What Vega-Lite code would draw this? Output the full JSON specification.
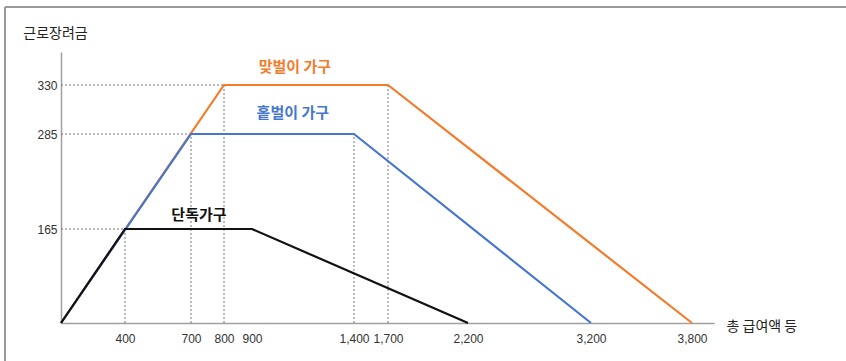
{
  "$schema": "https://vega.github.io/schema/vega-lite/v6.json",
  "width": 653,
  "height": 271,
  "autosize": {"type": "none"},
  "padding": {"left": 61, "top": 52, "right": 132, "bottom": 38},
  "background": "white",
  "config": {
    "view": {"stroke": null},
    "font": "Noto Sans CJK KR"
  },
  "datasets": {
    "lines": [
      {"series": "맞벌이 가구", "step": 1, "income": 0, "credit": 0},
      {"series": "맞벌이 가구", "step": 2, "income": 800, "credit": 330},
      {"series": "맞벌이 가구", "step": 3, "income": 1700, "credit": 330},
      {"series": "맞벌이 가구", "step": 4, "income": 3800, "credit": 0},
      {"series": "홑벌이 가구", "step": 1, "income": 0, "credit": 0},
      {"series": "홑벌이 가구", "step": 2, "income": 700, "credit": 285},
      {"series": "홑벌이 가구", "step": 3, "income": 1400, "credit": 285},
      {"series": "홑벌이 가구", "step": 4, "income": 3200, "credit": 0},
      {"series": "단독가구", "step": 1, "income": 0, "credit": 0},
      {"series": "단독가구", "step": 2, "income": 400, "credit": 165},
      {"series": "단독가구", "step": 3, "income": 900, "credit": 165},
      {"series": "단독가구", "step": 4, "income": 2200, "credit": 0}
    ],
    "guides": [
      {"income": 400, "income2": 400, "credit": 0, "credit2": 165},
      {"income": 700, "income2": 700, "credit": 0, "credit2": 285},
      {"income": 800, "income2": 800, "credit": 0, "credit2": 330},
      {"income": 1400, "income2": 1400, "credit": 0, "credit2": 285},
      {"income": 1700, "income2": 1700, "credit": 0, "credit2": 330},
      {"income": 0, "income2": 400, "credit": 165, "credit2": 165},
      {"income": 0, "income2": 700, "credit": 285, "credit2": 285},
      {"income": 0, "income2": 800, "credit": 330, "credit2": 330}
    ],
    "labels": [
      {"series": "맞벌이 가구", "text": "맞벌이 가구", "income": 1110, "credit": 346},
      {"series": "홑벌이 가구", "text": "홑벌이 가구", "income": 1100, "credit": 304},
      {"series": "단독가구", "text": "단독가구", "income": 724, "credit": 183}
    ]
  },
  "layer": [
    {
      "data": {"values": [{}]},
      "mark": {"type": "rule", "color": "#9a9a9a", "strokeWidth": 2, "clip": false},
      "encoding": {
        "x": {"datum": -350, "type": "quantitative", "scale": {"domain": [0, 400, 700, 800, 900, 1400, 1700, 2200, 3200, 3800, 3930], "range": [0, 64, 130, 163, 191, 293, 327, 407, 530, 631, 653], "nice": false, "zero": false}},
        "y": {"datum": -80, "type": "quantitative", "scale": {"domain": [0, 165, 285, 330, 360], "range": [271, 177, 82, 33, 0], "nice": false, "zero": false}},
        "y2": {"datum": 401}
      }
    },
    {
      "data": {"values": [{}]},
      "mark": {"type": "rule", "color": "#9a9a9a", "strokeWidth": 2, "clip": false},
      "encoding": {
        "x": {"datum": -350, "type": "quantitative", "scale": {"domain": [0, 400, 700, 800, 900, 1400, 1700, 2200, 3200, 3800, 3930], "range": [0, 64, 130, 163, 191, 293, 327, 407, 530, 631, 653], "nice": false, "zero": false}},
        "x2": {"datum": 4900},
        "y": {"datum": 401, "type": "quantitative", "scale": {"domain": [0, 165, 285, 330, 360], "range": [271, 177, 82, 33, 0], "nice": false, "zero": false}}
      }
    },
    {
      "data": {"name": "guides"},
      "mark": {"type": "rule", "color": "#777777", "strokeWidth": 1, "strokeDash": [2, 2]},
      "encoding": {
        "x": {"field": "income", "type": "quantitative", "scale": {"domain": [0, 400, 700, 800, 900, 1400, 1700, 2200, 3200, 3800, 3930], "range": [0, 64, 130, 163, 191, 293, 327, 407, 530, 631, 653], "nice": false, "zero": false}},
        "x2": {"field": "income2"},
        "y": {"field": "credit", "type": "quantitative", "scale": {"domain": [0, 165, 285, 330, 360], "range": [271, 177, 82, 33, 0], "nice": false, "zero": false}},
        "y2": {"field": "credit2"}
      }
    },
    {
      "data": {"name": "lines"},
      "mark": {"type": "line", "strokeWidth": 2.2},
      "encoding": {
        "x": {
          "field": "income", "type": "quantitative",
          "scale": {"domain": [0, 400, 700, 800, 900, 1400, 1700, 2200, 3200, 3800, 3930], "range": [0, 64, 130, 163, 191, 293, 327, 407, 530, 631, 653], "nice": false, "zero": false},
          "axis": {
            "values": [400, 700, 800, 900, 1400, 1700, 2200, 3200, 3800],
            "format": ",.0f",
            "grid": false,
            "ticks": false,
            "domainColor": "#a0a0a0",
            "domainWidth": 1.5,
            "labelFont": "Liberation Sans",
            "labelFontSize": 12,
            "labelColor": "#333333",
            "labelPadding": 10,
            "labelFlush": false,
            "labelOverlap": false,
            "title": "총 급여액 등",
            "titleFont": "Noto Sans CJK KR",
            "titleFontSize": 14,
            "titleFontWeight": "normal",
            "titleColor": "#222222",
            "titleAlign": "left",
            "titleBaseline": "middle",
            "titleX": 665,
            "titleY": 3
          }
        },
        "y": {
          "field": "credit", "type": "quantitative",
          "scale": {"domain": [0, 165, 285, 330, 360], "range": [271, 177, 82, 33, 0], "nice": false, "zero": false},
          "axis": {
            "values": [165, 285, 330],
            "format": ".0f",
            "grid": false,
            "ticks": false,
            "domainColor": "#a0a0a0",
            "domainWidth": 1.5,
            "labelFont": "Liberation Sans",
            "labelFontSize": 12,
            "labelColor": "#333333",
            "labelPadding": 4,
            "labelBaseline": "middle",
            "title": "근로장려금",
            "titleFont": "Noto Sans CJK KR",
            "titleFontSize": 14,
            "titleFontWeight": "normal",
            "titleColor": "#222222",
            "titleAngle": 0,
            "titleAlign": "center",
            "titleBaseline": "middle",
            "titleX": -6,
            "titleY": -19
          }
        },
        "color": {
          "field": "series", "type": "nominal",
          "scale": {"domain": ["맞벌이 가구", "홑벌이 가구", "단독가구"], "range": ["#f47b2a", "#4576d0", "#111111"]},
          "legend": null
        },
        "order": {"field": "step", "type": "quantitative"}
      }
    },
    {
      "data": {"name": "labels"},
      "mark": {"type": "text", "font": "Noto Sans CJK KR", "fontSize": 15, "fontWeight": "bold", "align": "center", "baseline": "middle"},
      "encoding": {
        "x": {"field": "income", "type": "quantitative", "scale": {"domain": [0, 400, 700, 800, 900, 1400, 1700, 2200, 3200, 3800, 3930], "range": [0, 64, 130, 163, 191, 293, 327, 407, 530, 631, 653], "nice": false, "zero": false}},
        "y": {"field": "credit", "type": "quantitative", "scale": {"domain": [0, 165, 285, 330, 360], "range": [271, 177, 82, 33, 0], "nice": false, "zero": false}},
        "text": {"field": "text"},
        "color": {"field": "series", "type": "nominal", "scale": {"domain": ["맞벌이 가구", "홑벌이 가구", "단독가구"], "range": ["#f47b2a", "#4576d0", "#111111"]}, "legend": null}
      }
    }
  ]
}
